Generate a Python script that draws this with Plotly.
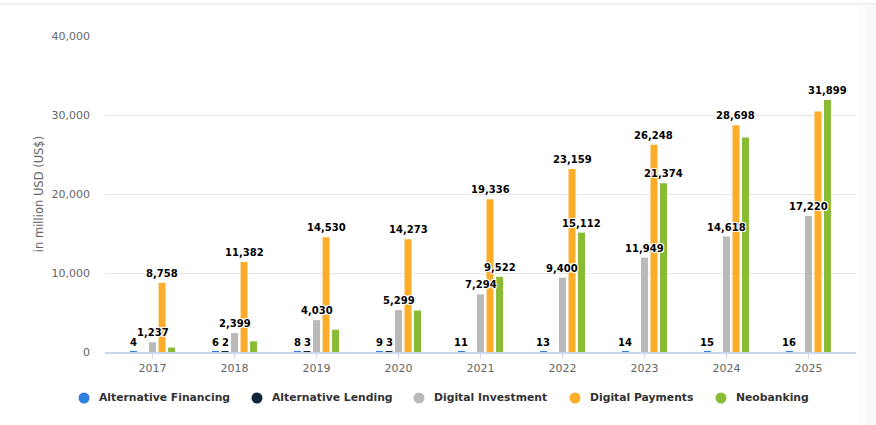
import plotly.graph_objects as go

years = ["2017", "2018", "2019", "2020", "2021", "2022", "2023", "2024", "2025"]
alt_financing = [4, 6, 8, 9, 11, 13, 14, 15, 16]
alt_lending = [None, 2, 3, 3, None, None, None, None, None]
digital_investment = [1237, 2399, 4030, 5299, 7294, 9400, 11949, 14618, 17220]
digital_payments = [8758, 11382, 14530, 14273, 19336, 23159, 26248, 28698, 30450]
neobanking = [560, 1350, 2820, 5250, 9522, 15112, 21374, 27150, 31899]

# which data labels are visible in the reference (others hidden by overlap)
show_af = [True] * 9
show_al = [False, True, True, True, False, False, False, False, False]
show_di = [True] * 9
show_dp = [True] * 8 + [False]
show_nb = [False, False, False, False, True, True, True, False, True]

series = [
    ("Alternative Financing", alt_financing, show_af, "#2f7fe0"),
    ("Alternative Lending", alt_lending, show_al, "#11263b"),
    ("Digital Investment", digital_investment, show_di, "#b9b9b9"),
    ("Digital Payments", digital_payments, show_dp, "#fdad29"),
    ("Neobanking", neobanking, show_nb, "#89bb35"),
]

FONT = "DejaVu Sans"
W, H = 876, 425
ML, MR, MT, MB = 105, 20, 36, 73
PW, PH = W - ML - MR, H - MT - MB

def px_x(px):
    return (px - ML) / PW

def px_y(py):
    return (H - MB - py) / PH

slot = 0.116
bar_w = 0.085
n = len(series)

# legend layout (pixel positions of the symbol centres, text starts 13px right)
legend_symbol_x = [84, 257, 419, 575, 721]
legend_y = 398
legend_r = 5.5

fig = go.Figure()
annotations = []
shapes = []
for i, (name, vals, show, color) in enumerate(series):
    center_off = (i - (n - 1) / 2) * slot
    fig.add_trace(go.Bar(
        x=years, y=vals, name=name,
        marker=dict(color=color, line=dict(width=0)),
        width=bar_w, offset=center_off - bar_w / 2,
        showlegend=False, hoverinfo="skip",
    ))
    for j, (v, s) in enumerate(zip(vals, show)):
        if v is None or not s:
            continue
        annotations.append(dict(
            x=j + center_off, y=v, xref="x", yref="y",
            text=f"{v:,}", showarrow=False,
            yanchor="bottom", xanchor="center", yshift=2,
            font=dict(family=FONT, size=10, color="#000000", weight="bold",
                      shadow="1px 1px 0 #fff, -1px -1px 0 #fff, 1px -1px 0 #fff, -1px 1px 0 #fff"),
        ))
    # legend entry
    cx = legend_symbol_x[i]
    shapes.append(dict(
        type="circle", xref="paper", yref="paper",
        x0=px_x(cx - legend_r), x1=px_x(cx + legend_r),
        y0=px_y(legend_y + legend_r), y1=px_y(legend_y - legend_r),
        fillcolor=color, line=dict(width=0),
    ))
    annotations.append(dict(
        x=px_x(cx + 13), y=px_y(legend_y), xref="paper", yref="paper",
        text=name, showarrow=False, xanchor="left", yanchor="middle",
        font=dict(family=FONT, size=10.8, color="#333333", weight="bold"),
    ))

shapes += [
    dict(type="line", xref="paper", yref="paper",
         x0=px_x(0), x1=px_x(W), y0=px_y(4), y1=px_y(4),
         line=dict(color="#e9edf2", width=1.5), layer="below"),
    dict(type="rect", xref="paper", yref="paper",
         x0=px_x(858), x1=px_x(W), y0=px_y(H), y1=px_y(6),
         fillcolor="rgba(0,0,0,0.012)", line=dict(width=0), layer="below"),
    dict(type="rect", xref="paper", yref="paper",
         x0=px_x(866), x1=px_x(W), y0=px_y(H), y1=px_y(6),
         fillcolor="rgba(0,0,0,0.015)", line=dict(width=0), layer="below"),
]

fig.update_layout(
    width=W, height=H,
    margin=dict(l=ML, r=MR, t=MT, b=MB, autoexpand=False),
    paper_bgcolor="white", plot_bgcolor="white",
    barmode="overlay",
    showlegend=False,
    font=dict(family=FONT, size=11, color="#666666"),
    annotations=annotations,
    shapes=shapes,
    xaxis=dict(
        type="category", range=[-0.58, 8.58],
        showgrid=False, showline=True, linecolor="#ccd6eb", linewidth=1.5,
        ticks="outside", ticklen=5, tickcolor="#ccd6eb",
        tickfont=dict(family=FONT, size=11, color="#666666"),
        layer="above traces",
        fixedrange=True,
    ),
    yaxis=dict(
        range=[0, 40000], tickvals=[0, 10000, 20000, 30000, 40000],
        tickformat=",", showgrid=True, gridcolor="#e6e6e6", gridwidth=1,
        zeroline=False, showline=False, ticks="",
        ticklabelstandoff=14,
        tickfont=dict(family=FONT, size=11, color="#666666"),
        title=dict(text="in million USD (US$)", standoff=5,
                   font=dict(family=FONT, size=11.5, color="#666666")),
        fixedrange=True,
    ),
)

fig.write_html("out.html")
